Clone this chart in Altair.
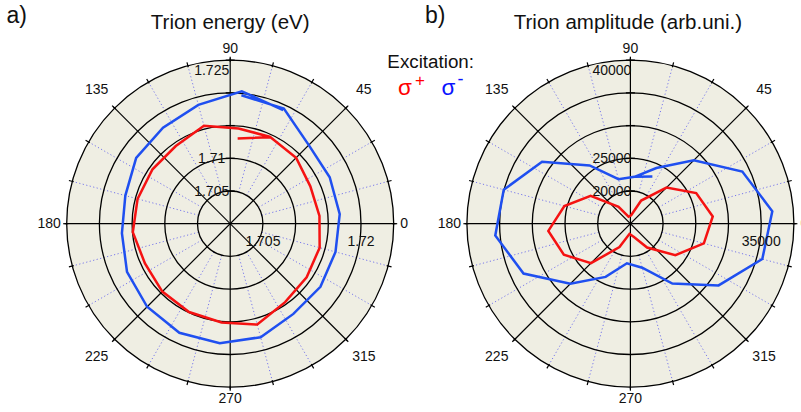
import math
import numpy as np
import pandas as pd
import altair as alt

# ---------------------------------------------------------------- data
# polar angle of each measured point, in drawing order (degrees)
ANGLES = [85, 65, 45, 25, 5, 345, 325, 305, 285, 265, 245, 225, 205, 185, 165, 145, 125, 105, 85, 65]

# a) Trion energy (eV)
ENERGY_SIGMA_PLUS = [1.71307, 1.71460, 1.71425, 1.71352, 1.71370, 1.71416, 1.71427, 1.71464, 1.71597, 1.71515,
                     1.71490, 1.71468, 1.71438, 1.71495, 1.71466, 1.71450, 1.71450, 1.71550, 1.71462, 1.71462]
ENERGY_SIGMA_MINUS = [1.71972, 1.71941, 1.71700, 1.71679, 1.71681, 1.71667, 1.71684, 1.71684, 1.71797, 1.71833,
                      1.71840, 1.71796, 1.71741, 1.71662, 1.71660, 1.71755, 1.71791, 1.71881, 1.72033, 1.71917]

# b) Trion amplitude (arb.uni.)
AMPLITUDE_SIGMA_PLUS = [16300, 18900, 22800, 26100, 27640, 26630, 23390, 19450, 17100, 16560,
                        18950, 23520, 26230, 27600, 25450, 22420, 18150, 16100, 16300, 18900]
AMPLITUDE_SIGMA_MINUS = [22200, 24400, 28710, 33880, 36780, 35880, 31460, 26180, 21970, 21080,
                         23970, 27990, 33030, 35740, 35050, 31490, 25880, 22050, 22200, 22950]

# radial axes: centre value and ring values
ENERGY_CENTER = 1.700
ENERGY_RINGS = [1.705, 1.710, 1.715, 1.720, 1.725]
AMPLITUDE_CENTER = 15000
AMPLITUDE_RINGS = [20000, 25000, 30000, 35000, 40000]

# radial tick labels shown (value, text)
ENERGY_LABELS_VERTICAL = [(1.705, "1.705"), (1.710, "1.71"), (1.725, "1.725")]
ENERGY_LABELS_HORIZONTAL = [(1.705, "1.705"), (1.720, "1.72")]
AMPLITUDE_LABELS_VERTICAL = [(20000, "20000"), (25000, "25000"), (40000, "40000")]
AMPLITUDE_LABELS_HORIZONTAL = [(35000, "35000")]

ANGLE_TICKS = [0, 45, 90, 135, 180, 225, 270, 315]
ANGLE_TICK_LABELS = ["0", "45", "90", "135", "180", "225", "270", "315"]
MINOR_ANGLES = [15, 30, 60, 75, 105, 120, 150, 165, 195, 210, 240, 255, 285, 300, 330, 345]

TITLES = ["Trion energy (eV)", "Trion amplitude (arb.uni.)"]
PANEL_LETTERS = ["a)", "b)"]
SERIES = ["σ+", "σ-"]

# ---------------------------------------------------------------- layout / style
W, H = 801, 412
CX = {"a": 230.2, "b": 630.4}
CY = 223.7
R = 163.5
FONT = "Liberation Sans"
RED = "#f51212"
BLUE = "#1f4ff0"
LEG_RED = "#ff0000"
LEG_BLUE = "#0a14ff"
BEIGE = "#efeee3"
DOT = "#7878ec"
LABEL_RADIUS = {0: 174, 45: 189, 90: 175, 135: 189, 180: 181, 225: 189, 270: 175.5, 315: 189}

xs = alt.Scale(domain=[0, W], nice=False, zero=False)
ys = alt.Scale(domain=[0, H], nice=False, zero=False, reverse=True)


def X(f):
    return alt.X(f, type="quantitative", scale=xs, axis=None)


def Y(f):
    return alt.Y(f, type="quantitative", scale=ys, axis=None)


def pol(cx, r, ang):
    a = math.radians(ang)
    return cx + r * math.cos(a), CY - r * math.sin(a)


panels = {
    "a": dict(v0=ENERGY_CENTER, v1=ENERGY_RINGS[-1], rings=ENERGY_RINGS,
              lv=ENERGY_LABELS_VERTICAL, lh=ENERGY_LABELS_HORIZONTAL,
              series={"σ+": ENERGY_SIGMA_PLUS, "σ-": ENERGY_SIGMA_MINUS}),
    "b": dict(v0=AMPLITUDE_CENTER, v1=AMPLITUDE_RINGS[-1], rings=AMPLITUDE_RINGS,
              lv=AMPLITUDE_LABELS_VERTICAL, lh=AMPLITUDE_LABELS_HORIZONTAL,
              series={"σ+": AMPLITUDE_SIGMA_PLUS, "σ-": AMPLITUDE_SIGMA_MINUS}),
}

# ---------------------------------------------------------------- tables
disc_rows, ring_rows, rule_rows, dot_rows, txt_rows, curve_rows = [], [], [], [], [], []
for p, info in panels.items():
    cx = CX[p]
    v0, v1 = info["v0"], info["v1"]
    rad = lambda v: R * (v - v0) / (v1 - v0)
    # symbol size = area of bounding box = (2r)^2
    disc_rows.append(dict(x=cx, y=CY, size=(2 * R) ** 2))
    for v in info["rings"]:
        r = rad(v)
        ring_rows.append(dict(x=cx, y=CY, size=(2 * r) ** 2))
        # small ticks on the vertical axis
        rule_rows.append(dict(x=cx - 4.5, y=CY - r, x2=cx + 4.5, y2=CY - r, w=1.3))
    # solid spokes
    for ang in ANGLE_TICKS[:4]:
        x1, y1 = pol(cx, R + 2, ang)
        x2, y2 = pol(cx, R + 2, ang + 180)
        rule_rows.append(dict(x=x1, y=y1, x2=x2, y2=y2, w=1.2))
    # outer ticks every 15 degrees
    for ang in sorted(ANGLE_TICKS + MINOR_ANGLES):
        x1, y1 = pol(cx, R - 1.5, ang)
        x2, y2 = pol(cx, R + 3.5, ang)
        rule_rows.append(dict(x=x1, y=y1, x2=x2, y2=y2, w=1.2))
    # dotted spokes
    for ang in MINOR_ANGLES:
        x1, y1 = pol(cx, rad(info["rings"][0]), ang)
        x2, y2 = pol(cx, R, ang)
        dot_rows.append(dict(x=x1, y=y1, x2=x2, y2=y2))
    # ring labels
    for v, t in info["lv"]:
        off = 10.5 if v == info["rings"][-1] else 1.0
        txt_rows.append(dict(x=cx - 18.5, y=CY - rad(v) + off, t=t))
    for v, t in info["lh"]:
        txt_rows.append(dict(x=cx + rad(v), y=CY + 18, t=t))
    # angle labels
    for ang, t in zip(ANGLE_TICKS, ANGLE_TICK_LABELS):
        x, y = pol(cx, LABEL_RADIUS[ang], ang)
        txt_rows.append(dict(x=x, y=y, t=t))
    # curves
    for s, vals in info["series"].items():
        for i, (ang, v) in enumerate(zip(ANGLES, vals)):
            curve_rows.append(dict(key=p + s, series=s, idx=i, angle=ang, value=v,
                                   v0=v0, v1=v1, cx=cx))

disc_df = pd.DataFrame(disc_rows)
ring_df = pd.DataFrame(ring_rows)
rule_df = pd.DataFrame(rule_rows)
dot_df = pd.DataFrame(dot_rows)
txt_df = pd.DataFrame(txt_rows)
curve_df = pd.DataFrame(curve_rows)

title_df = pd.DataFrame([
    dict(x=CX["a"], y=29.3, t=TITLES[0]),
    dict(x=CX["b"] - 2.5, y=29.3, t=TITLES[1]),
])
letter_df = pd.DataFrame([
    dict(x=6.5, y=23.3, t=PANEL_LETTERS[0]),
    dict(x=425.0, y=23.3, t=PANEL_LETTERS[1]),
])
legend_center_df = pd.DataFrame([
    dict(x=430.7, y=68.3, t="Excitation:", fs=18.8, c="#111111"),
    dict(x=420.0, y=86.0, t="+", fs=17, c=LEG_RED),
    dict(x=460.4, y=84.5, t="-", fs=18, c=LEG_BLUE),
])
legend_sigma_df = pd.DataFrame([
    dict(x=398.0, y=95.0, t="σ", c=LEG_RED),
    dict(x=441.5, y=95.0, t="σ", c=LEG_BLUE),
])

# ---------------------------------------------------------------- layers
disc = alt.Chart(disc_df).mark_point(shape="circle", filled=True, color=BEIGE, opacity=1,
                                     strokeWidth=0).encode(
    x=X("x"), y=Y("y"), size=alt.Size("size:Q", scale=None))

dots = alt.Chart(dot_df).mark_rule(color=DOT, strokeWidth=1, strokeDash=[1.2, 2.4]).encode(
    x=X("x"), y=Y("y"), x2="x2:Q", y2="y2:Q")

rings = alt.Chart(ring_df).mark_point(shape="circle", filled=False, color="#000000", opacity=1,
                                      strokeWidth=1.3).encode(
    x=X("x"), y=Y("y"), size=alt.Size("size:Q", scale=None))

rules = alt.Chart(rule_df).mark_rule(color="#000000").encode(
    x=X("x"), y=Y("y"), x2="x2:Q", y2="y2:Q", strokeWidth=alt.StrokeWidth("w:Q", scale=None))

curves = alt.Chart(curve_df).transform_calculate(
    rn="max(0, (datum.value - datum.v0) / (datum.v1 - datum.v0))"
).transform_calculate(
    px=f"datum.cx + {R} * datum.rn * cos(datum.angle * PI / 180)",
    py=f"{CY} - {R} * datum.rn * sin(datum.angle * PI / 180)",
).mark_line(strokeWidth=2.5).encode(
    x=X("px"), y=Y("py"),
    color=alt.Color("series:N", scale=alt.Scale(domain=SERIES, range=[RED, BLUE]), legend=None),
    detail="key:N",
    order=alt.Order("idx:Q"),
)

labels = alt.Chart(txt_df).mark_text(align="center", baseline="middle", font=FONT, fontSize=14,
                                     color="#111111").encode(x=X("x"), y=Y("y"), text="t:N")

titles = alt.Chart(title_df).mark_text(align="center", baseline="alphabetic", font=FONT,
                                       fontSize=20.5, color="#111111").encode(
    x=X("x"), y=Y("y"), text="t:N")

letters = alt.Chart(letter_df).mark_text(align="left", baseline="alphabetic", font=FONT,
                                         fontSize=23, color="#111111").encode(
    x=X("x"), y=Y("y"), text="t:N")

legend_c = alt.Chart(legend_center_df).mark_text(align="center", baseline="alphabetic", font=FONT).encode(
    x=X("x"), y=Y("y"), text="t:N",
    size=alt.Size("fs:Q", scale=None), color=alt.Color("c:N", scale=None))

legend_s = alt.Chart(legend_sigma_df).mark_text(align="left", baseline="alphabetic", font=FONT,
                                               fontSize=22.5).encode(
    x=X("x"), y=Y("y"), text="t:N", color=alt.Color("c:N", scale=None))

chart = alt.layer(disc, dots, rings, rules, curves, labels, titles, letters, legend_c, legend_s).properties(
    width=W, height=H, padding=0, autosize=alt.AutoSizeParams(type="none"),
    background="#ffffff",
).configure_view(stroke=None)

chart.save("out.html", embed_options={"renderer": "svg", "actions": False})
